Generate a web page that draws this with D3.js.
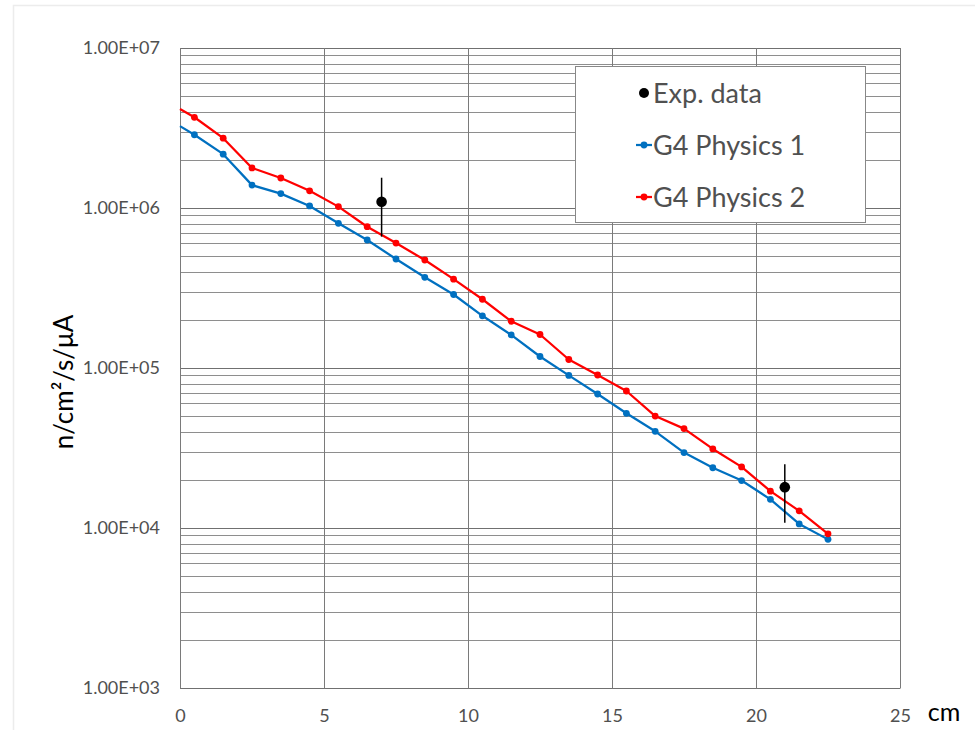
<!DOCTYPE html>
<html>
<head>
<meta charset="utf-8">
<script src="https://cdn.jsdelivr.net/npm/d3@7"></script>
<style>
  html, body { margin: 0; padding: 0; background: #fff; }
  svg { display: block; }
</style>
</head>
<body>
<svg id="chart" width="975" height="730"></svg>
<script>
// ---- data ----
const xPhys = [0, 0.5, 1.5, 2.5, 3.5, 4.5, 5.5, 6.5, 7.5, 8.5, 9.5, 10.5, 11.5, 12.5, 13.5, 14.5, 15.5, 16.5, 17.5, 18.5, 19.5, 20.5, 21.5, 22.5];
const physics1 = [3.25e6, 2.87e6, 2.17e6, 1.39e6, 1.23e6, 1.03e6, 8.02e5, 6.31e5, 4.80e5, 3.69e5, 2.88e5, 2.12e5, 1.61e5, 1.18e5, 8.99e4, 6.88e4, 5.21e4, 4.02e4, 2.96e4, 2.38e4, 1.98e4, 1.51e4, 1.06e4, 8.49e3];
const physics2 = [4.16e6, 3.69e6, 2.73e6, 1.78e6, 1.54e6, 1.28e6, 1.02e6, 7.64e5, 6.04e5, 4.73e5, 3.59e5, 2.69e5, 1.96e5, 1.62e5, 1.13e5, 9.04e4, 7.18e4, 5.01e4, 4.18e4, 3.12e4, 2.41e4, 1.70e4, 1.28e4, 9.2e3];
const expX = [7, 21];
const expY = [1.095e6, 1.80e4];
const expLow = [6.62e5, 1.08e4];
const expHigh = [1.546e6, 2.50e4];
const xTicks = [0, 5, 10, 15, 20, 25];
const yTicks = [1e3, 1e4, 1e5, 1e6, 1e7];
const yTickLabels = ["1.00E+03", "1.00E+04", "1.00E+05", "1.00E+06", "1.00E+07"];
const seriesNames = ["Exp. data", "G4 Physics 1", "G4 Physics 2"];
const seriesColors = ["#000000", "#0070C0", "#FF0000"];

// ---- layout ----
const svg = d3.select("#chart");
const font = "Lato, 'Liberation Sans', sans-serif";
const textColor = "#505050";
const x = d3.scaleLinear().domain([0, 25]).range([180, 900]);
const y = d3.scaleLog().domain([1e3, 1e7]).range([688, 48]);

// chart border (faint)
svg.append("rect").attr("x", 13.5).attr("y", 5.5).attr("width", 1000).attr("height", 800)
  .attr("fill", "none").attr("stroke", "#ececec").attr("stroke-width", 1.5);

// gridlines
const minor = [];
for (let d = 3; d < 7; d++) for (let m = 2; m <= 9; m++) minor.push(m * Math.pow(10, d));
const g = svg.append("g");
g.selectAll("line.minor").data(minor).join("line")
  .attr("x1", 180).attr("x2", 900)
  .attr("y1", d => Math.round(y(d)) + 0.5).attr("y2", d => Math.round(y(d)) + 0.5)
  .attr("stroke", "#8e8e8e").attr("stroke-width", 1);
g.selectAll("line.major").data(yTicks).join("line")
  .attr("x1", 180).attr("x2", 900)
  .attr("y1", d => Math.round(y(d)) + 0.5).attr("y2", d => Math.round(y(d)) + 0.5)
  .attr("stroke", "#707070").attr("stroke-width", 1);
g.selectAll("line.vx").data(xTicks).join("line")
  .attr("x1", d => Math.round(x(d)) + 0.5).attr("x2", d => Math.round(x(d)) + 0.5)
  .attr("y1", 48).attr("y2", 688.5)
  .attr("stroke", "#7a7a7a").attr("stroke-width", 1);

// axes tick labels via d3 axes
const yAxis = d3.axisLeft(y).tickValues(yTicks).tickFormat((d, i) => yTickLabels[i]).tickSize(0).tickPadding(20);
const ya = svg.append("g").attr("transform", "translate(180,0)").call(yAxis);
ya.select(".domain").remove();
ya.selectAll("text").attr("font-family", font).attr("font-size", 18).attr("fill", textColor);

const xAxis = d3.axisBottom(x).tickValues(xTicks).tickFormat(d3.format("d")).tickSize(0).tickPadding(21);
const xa = svg.append("g").attr("transform", "translate(0,688)").call(xAxis);
xa.select(".domain").remove();
xa.selectAll("text").attr("font-family", font).attr("font-size", 18).attr("fill", textColor);

// axis titles
svg.append("text").attr("x", 944).attr("y", 721).attr("text-anchor", "middle")
  .attr("font-family", font).attr("font-size", 25).attr("fill", "#000").text("cm");
svg.append("text").attr("transform", "translate(73,382) rotate(-90)").attr("text-anchor", "middle")
  .attr("font-family", font).attr("font-size", 26).attr("fill", "#000").text("n/cm\u00B2/s/\u03BCA");

// series
const line = d3.line().x(d => x(d[0])).y(d => y(d[1]));
[[physics1, seriesColors[1]], [physics2, seriesColors[2]]].forEach(([vals, col]) => {
  const pts = xPhys.map((xv, i) => [xv, vals[i]]);
  svg.append("path").datum(pts).attr("d", line).attr("fill", "none")
    .attr("stroke", col).attr("stroke-width", 2.25).attr("stroke-linejoin", "round");
  svg.append("g").selectAll("circle").data(pts.filter(p => p[0] > 0)).join("circle")
    .attr("cx", d => x(d[0])).attr("cy", d => y(d[1])).attr("r", 3.4).attr("fill", col);
});

// experimental data
const exp = expX.map((xv, i) => ({ x: xv, y: expY[i], lo: expLow[i], hi: expHigh[i] }));
svg.append("g").selectAll("line").data(exp).join("line")
  .attr("x1", d => x(d.x)).attr("x2", d => x(d.x))
  .attr("y1", d => y(d.lo)).attr("y2", d => y(d.hi))
  .attr("stroke", "#000").attr("stroke-width", 1.5);
svg.append("g").selectAll("circle").data(exp).join("circle")
  .attr("cx", d => x(d.x)).attr("cy", d => y(d.y)).attr("r", 5.3).attr("fill", "#000");

// legend
const lg = svg.append("g");
lg.append("rect").attr("x", 575.5).attr("y", 66.5).attr("width", 290).attr("height", 156)
  .attr("fill", "#fff").attr("stroke", "#888").attr("stroke-width", 1);
const rows = [93, 145, 197];
seriesNames.forEach((name, i) => {
  const cy = rows[i];
  if (i === 0) {
    lg.append("circle").attr("cx", 644).attr("cy", cy).attr("r", 5).attr("fill", seriesColors[i]);
  } else {
    lg.append("line").attr("x1", 636).attr("x2", 652).attr("y1", cy).attr("y2", cy)
      .attr("stroke", seriesColors[i]).attr("stroke-width", 2.25);
    lg.append("circle").attr("cx", 644).attr("cy", cy).attr("r", 3.4).attr("fill", seriesColors[i]);
  }
  lg.append("text").attr("x", 653).attr("y", cy + 9.5).attr("font-family", font)
    .attr("font-size", 27).attr("fill", textColor).text(name);
});
</script>
</body>
</html>
